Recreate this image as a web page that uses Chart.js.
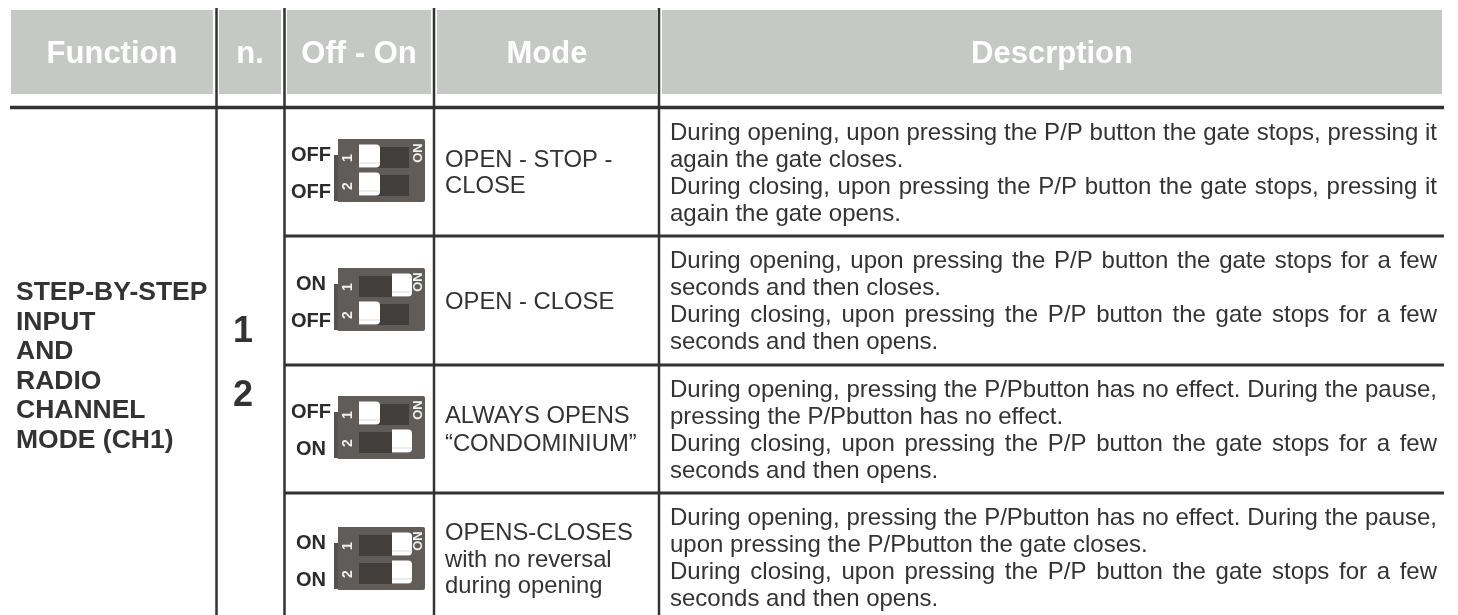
<!DOCTYPE html>
<html lang="en">
<head>
    <meta charset="UTF-8">
    <title>DIP switch table</title>
    <script src="https://cdn.jsdelivr.net/npm/chart.js"></script>
    <style>
        html, body { margin: 0; padding: 0; background: #fff; }
        canvas { display: block; }
    </style>
</head>
<body>
    <canvas id="table" width="1458" height="615"></canvas>

    <script>
        // table content
        const headers = ['Function', 'n.', 'Off - On', 'Mode', 'Descrption'];
        const functionLines = ['STEP-BY-STEP', 'INPUT', 'AND', 'RADIO', 'CHANNEL', 'MODE (CH1)'];
        const numbers = ['1', '2'];
        const switch1 = ['OFF', 'ON', 'OFF', 'ON'];
        const switch2 = ['OFF', 'OFF', 'ON', 'ON'];
        const modes = [
            ['OPEN - STOP -', 'CLOSE'],
            ['OPEN - CLOSE'],
            ['ALWAYS OPENS', '“CONDOMINIUM”'],
            ['OPENS-CLOSES', 'with no reversal', 'during opening']
        ];
        const descriptions = [
            ['During opening, upon pressing the P/P button the gate stops, pressing it', 'again the gate closes.',
             'During closing, upon pressing the P/P button the gate stops, pressing it', 'again the gate opens.'],
            ['During opening, upon pressing the P/P button the gate stops for a few', 'seconds and then closes.',
             'During closing, upon pressing the P/P button the gate stops for a few', 'seconds and then opens.'],
            ['During opening, pressing the P/Pbutton has no effect. During the pause,', 'pressing the P/Pbutton has no effect.',
             'During closing, upon pressing the P/P button the gate stops for a few', 'seconds and then opens.'],
            ['During opening, pressing the P/Pbutton has no effect. During the pause,', 'upon pressing the P/Pbutton the gate closes.',
             'During closing, upon pressing the P/P button the gate stops for a few', 'seconds and then opens.']
        ];

        // layout, in the units of the two axes
        const headerLeft = [11, 219, 287, 437, 662];
        const headerRight = [213, 281, 431, 657, 1442];
        const columnRules = [216.5, 284.5, 434, 659];
        const rowTops = [108, 236, 365, 493];
        const switchTops = [139, 268, 396, 527];
        const modeBaselines = [[167, 193], [309], [423, 451], [540, 567, 593]];
        const numberBaselines = [342, 406];

        const ink = '#333333';
        const sans = '"Liberation Sans", Arial, sans-serif';

        function rule(x1, y1, x2, y2, width) {
            return {
                type: 'scatter', showLine: true, pointRadius: 0, borderColor: ink, borderWidth: width,
                order: 5, data: [{ x: x1, y: y1 }, { x: x2, y: y2 }]
            };
        }

        function bars(cells, color, thickness, order, radius) {
            return {
                type: 'bar', indexAxis: 'y', stack: 'all', backgroundColor: color, barThickness: thickness,
                borderRadius: radius || 0, inflateAmount: 0, order: order, data: cells
            };
        }

        const bodies = switchTops.map(t => ({ x: [338, 425], y: t + 31.5 }));
        const slivers = switchTops.map(t => ({ x: [334, 338], y: t + 39 }));
        const tracks = [];
        const knobs = [];
        const knobEdges = [];
        switchTops.forEach((t, i) => {
            [switch1[i], switch2[i]].forEach((state, j) => {
                const mid = t + 17 + j * 28;
                tracks.push({ x: [359, 409], y: mid + 1.5 });
                const span = state === 'ON' ? [392, 412] : [359, 380];
                knobs.push({ x: span, y: mid });
                knobEdges.push({ x: span, y: mid + 7 });
            });
        });

        const datasets = [
            bars(headerLeft.map((l, i) => ({ x: [l, headerRight[i]], y: 52 })), '#c6c8c6', 84, 6),
            rule(10, 107.5, 1444, 107.5, 3.5)
        ];
        columnRules.forEach(x => datasets.push(rule(x, 8, x, 615, 2.5)));
        rowTops.slice(1).forEach(y => datasets.push(rule(284, y, 1444, y, 3)));
        datasets.push(bars(bodies, '#5f5c5a', 63, 4, 2));
        datasets.push(bars(slivers, '#56534f', 46, 4));
        datasets.push(bars(tracks, '#423e3b', 21, 3));
        datasets.push(bars(knobs, '#ffffff', 23, 2, 4));
        datasets.push(bars(knobEdges, '#d9d9d9', 1, 1));

        // text is drawn through the same scales as the marks
        const tableText = {
            id: 'tableText',
            afterDatasetsDraw(chart) {
                const c = chart.ctx;
                const X = v => chart.scales.x.getPixelForValue(v);
                const Y = v => chart.scales.y.getPixelForValue(v);

                function put(text, x, y, font, color, align) {
                    c.font = font;
                    c.fillStyle = color;
                    c.textAlign = align || 'left';
                    c.textBaseline = 'alphabetic';
                    c.fillText(text, X(x), Y(y));
                }

                function justified(text, x1, x2, y, font, color) {
                    c.font = font;
                    const words = text.split(' ');
                    const used = words.reduce((s, w) => s + c.measureText(w).width, 0);
                    const gap = (X(x2) - X(x1) - used) / (words.length - 1);
                    let at = X(x1);
                    words.forEach(w => {
                        put(w, chart.scales.x.getValueForPixel(at), y, font, color);
                        at += c.measureText(w).width + gap;
                    });
                }

                function turned(text, x, y, font, color) {
                    c.save();
                    c.translate(X(x), Y(y));
                    c.rotate(-Math.PI / 2);
                    c.font = font;
                    c.fillStyle = color;
                    c.textAlign = 'center';
                    c.textBaseline = 'middle';
                    c.fillText(text, 0, 0);
                    c.restore();
                }

                headers.forEach((h, i) => {
                    put(h, (headerLeft[i] + headerRight[i]) / 2, 63, 'bold 31px ' + sans, '#ffffff', 'center');
                });
                functionLines.forEach((t, i) => put(t, 16, 300 + i * 29.6, 'bold 26.5px ' + sans, ink));
                numbers.forEach((t, i) => put(t, 243, numberBaselines[i], 'bold 36px ' + sans, ink, 'center'));

                modes.forEach((lines, r) => {
                    lines.forEach((t, i) => put(t, 445, modeBaselines[r][i], '23.8px ' + sans, ink));
                });

                descriptions.forEach((lines, r) => {
                    lines.forEach((t, i) => {
                        const y = rowTops[r] + 31.5 + i * 27.3;
                        if (i % 2 === 0) justified(t, 670, 1437, y, '24px ' + sans, ink);
                        else put(t, 670, y, '24px ' + sans, ink);
                    });
                });

                switchTops.forEach((t, r) => {
                    [switch1[r], switch2[r]].forEach((state, j) => {
                        put(state, 311, t + 22 + j * 36.5, 'bold 20px ' + sans, '#2b2b2b', 'center');
                        turned(String(j + 1), 348, t + 19 + j * 28, 'bold 14px ' + sans, '#f0f0f0');
                    });
                    turned('ON', 418, t + 14, 'bold 13px ' + sans, '#f0f0f0');
                });
            }
        };

        new Chart(document.getElementById('table'), {
            type: 'bar',
            data: { datasets: datasets },
            options: {
                responsive: false,
                animation: false,
                layout: { padding: 0, autoPadding: false },
                plugins: { legend: { display: false }, tooltip: { enabled: false } },
                scales: {
                    x: { type: 'linear', display: false, min: 0, max: 1458, stacked: false, offset: false },
                    y: { type: 'linear', display: false, min: 0, max: 615, reverse: true, offset: false }
                }
            },
            plugins: [tableText]
        });
    </script>
</body>
</html>
